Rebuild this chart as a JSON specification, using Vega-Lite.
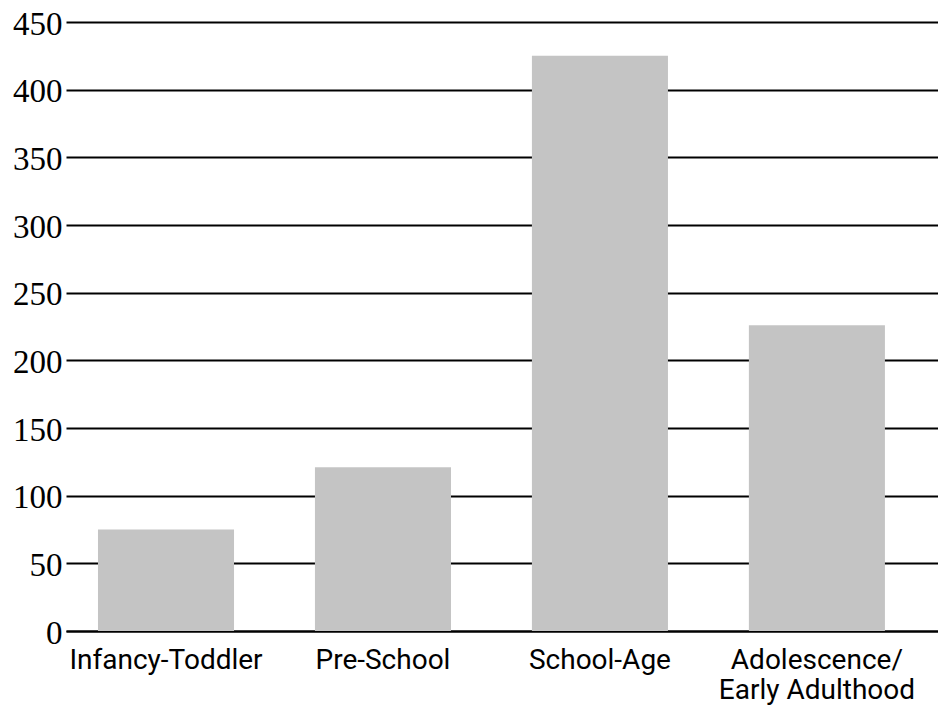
{
  "$schema": "https://vega.github.io/schema/vega-lite/v6.json",
  "width": 872,
  "height": 609,
  "autosize": {"type": "none"},
  "padding": {"left": 66, "top": 22, "right": 0, "bottom": 81},
  "background": "white",
  "data": {
    "values": [
      {"stage": "Infancy-Toddler", "count": 75},
      {"stage": "Pre-School", "count": 121},
      {"stage": "School-Age", "count": 425},
      {"stage": "Adolescence/Early Adulthood", "count": 226}
    ]
  },
  "mark": {"type": "bar", "color": "#c4c4c4"},
  "encoding": {
    "x": {
      "field": "stage",
      "type": "nominal",
      "sort": null,
      "title": null,
      "scale": {"paddingInner": 0.373, "paddingOuter": 0.196, "align": 0.376},
      "axis": {
        "labelAngle": 0,
        "ticks": false,
        "domain": true,
        "domainColor": "black",
        "domainWidth": 2,
        "labelFont": "Roboto",
        "labelFontSize": 28,
        "labelColor": "black",
        "labelPadding": 15,
        "labelLimit": 0,
        "labelLineHeight": 30,
        "labelExpr": "datum.value == 'Adolescence/Early Adulthood' ? ['Adolescence/', 'Early Adulthood'] : datum.value"
      }
    },
    "y": {
      "field": "count",
      "type": "quantitative",
      "title": null,
      "scale": {"domain": [0, 450], "nice": false},
      "axis": {
        "values": [0, 50, 100, 150, 200, 250, 300, 350, 400, 450],
        "ticks": false,
        "domain": false,
        "grid": true,
        "gridColor": "black",
        "gridWidth": 2,
        "gridOpacity": 1,
        "labelFont": "Liberation Serif",
        "labelFontSize": 33,
        "labelColor": "black",
        "labelPadding": 4,
        "labelOffset": 2
      }
    }
  },
  "config": {"view": {"stroke": null}}
}
